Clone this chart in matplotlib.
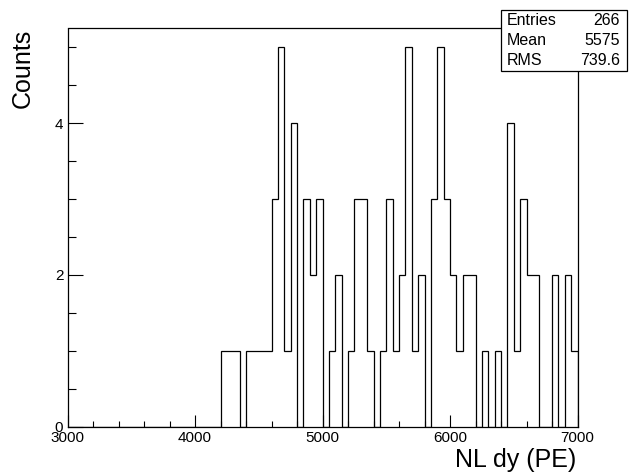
import numpy as np
import matplotlib
matplotlib.use("Agg")
import matplotlib.pyplot as plt
from matplotlib.patches import Rectangle
from matplotlib.ticker import MultipleLocator

plt.rcParams['font.family'] = ['Liberation Sans', 'DejaVu Sans']

# ---- data ----
bin_lo = 3000
bin_hi = 7000
counts = [0, 0, 0, 0, 0, 0, 0, 0, 0, 0, 0, 0,
          0, 0, 0, 0, 0, 0, 0, 0, 0, 0, 0, 0,
          1, 1, 1, 0, 1, 1, 1, 1, 3, 5, 1, 4,
          0, 3, 2, 3, 0, 1, 2, 0, 1, 3, 3, 1,
          0, 1, 3, 1, 2, 5, 1, 2, 0, 3, 5, 3,
          2, 1, 2, 2, 0, 1, 0, 1, 0, 4, 1, 3,
          2, 2, 0, 0, 2, 0, 2, 1]
x_ticks = [3000, 4000, 5000, 6000, 7000]
y_ticks = [0, 2, 4]
stat_names = ["Entries", "Mean", "RMS"]
stat_values = ["266", "5575", "739.6"]
x_title = "NL dy (PE)"
y_title = "Counts"

edges = np.linspace(bin_lo, bin_hi, len(counts) + 1)

W, H = 629, 473
fig = plt.figure(figsize=(W / 100, H / 100), dpi=100)
L, R, T, B = 67.5, 577.5, 28.5, 426.5
ax = fig.add_axes([L / W, 1 - B / H, (R - L) / W, (B - T) / H])

ax.stairs(counts, edges, baseline=0, fill=False, color='black', linewidth=0.9)
ax.set_xlim(bin_lo, bin_hi)
ax.set_ylim(0, 1.05 * max(counts))

for s in ax.spines.values():
    s.set_linewidth(0.9)
    s.set_color('black')

ax.set_xticks(x_ticks)
ax.set_xticklabels([str(v) for v in x_ticks])
ax.xaxis.set_minor_locator(MultipleLocator(200))
ax.set_yticks(y_ticks)
ax.set_yticklabels([str(v) for v in y_ticks])
ax.yaxis.set_minor_locator(MultipleLocator(0.5))

ax.tick_params(axis='x', which='major', direction='in', length=8.6, width=0.8,
               labelsize=11, pad=3.0, top=False)
ax.tick_params(axis='x', which='minor', direction='in', length=4.0, width=0.8, top=False)
ax.tick_params(axis='y', which='major', direction='in', length=10.8, width=0.8,
               labelsize=11, pad=3, right=False)
ax.tick_params(axis='y', which='minor', direction='in', length=5.8, width=0.8, right=False)

# axis titles (ROOT style: aligned to the end of the axis)
fig.text(23 / W, 1 - 28.5 / H, y_title, rotation=90, ha='center', va='top', fontsize=18)
fig.text(576.5 / W, 1 - 467 / H, x_title, ha='right', va='baseline', fontsize=18)

# stats box
bx0, bx1, by0, by1 = 501, 627, 10, 71
fig.patches.append(Rectangle((bx0 / W, 1 - by1 / H), (bx1 - bx0) / W, (by1 - by0) / H,
                             transform=fig.transFigure, facecolor='white',
                             edgecolor='black', linewidth=0.9, zorder=5))
row_h = (by1 - by0) / len(stat_names)
for i, (nm, val) in enumerate(zip(stat_names, stat_values)):
    yc = by0 + row_h * (i + 0.5)
    fig.text(507 / W, 1 - yc / H, nm, ha='left', va='center', fontsize=11.5, zorder=6)
    fig.text(620 / W, 1 - yc / H, val, ha='right', va='center', fontsize=11.5, zorder=6)

fig.savefig("out.png", dpi=100)
